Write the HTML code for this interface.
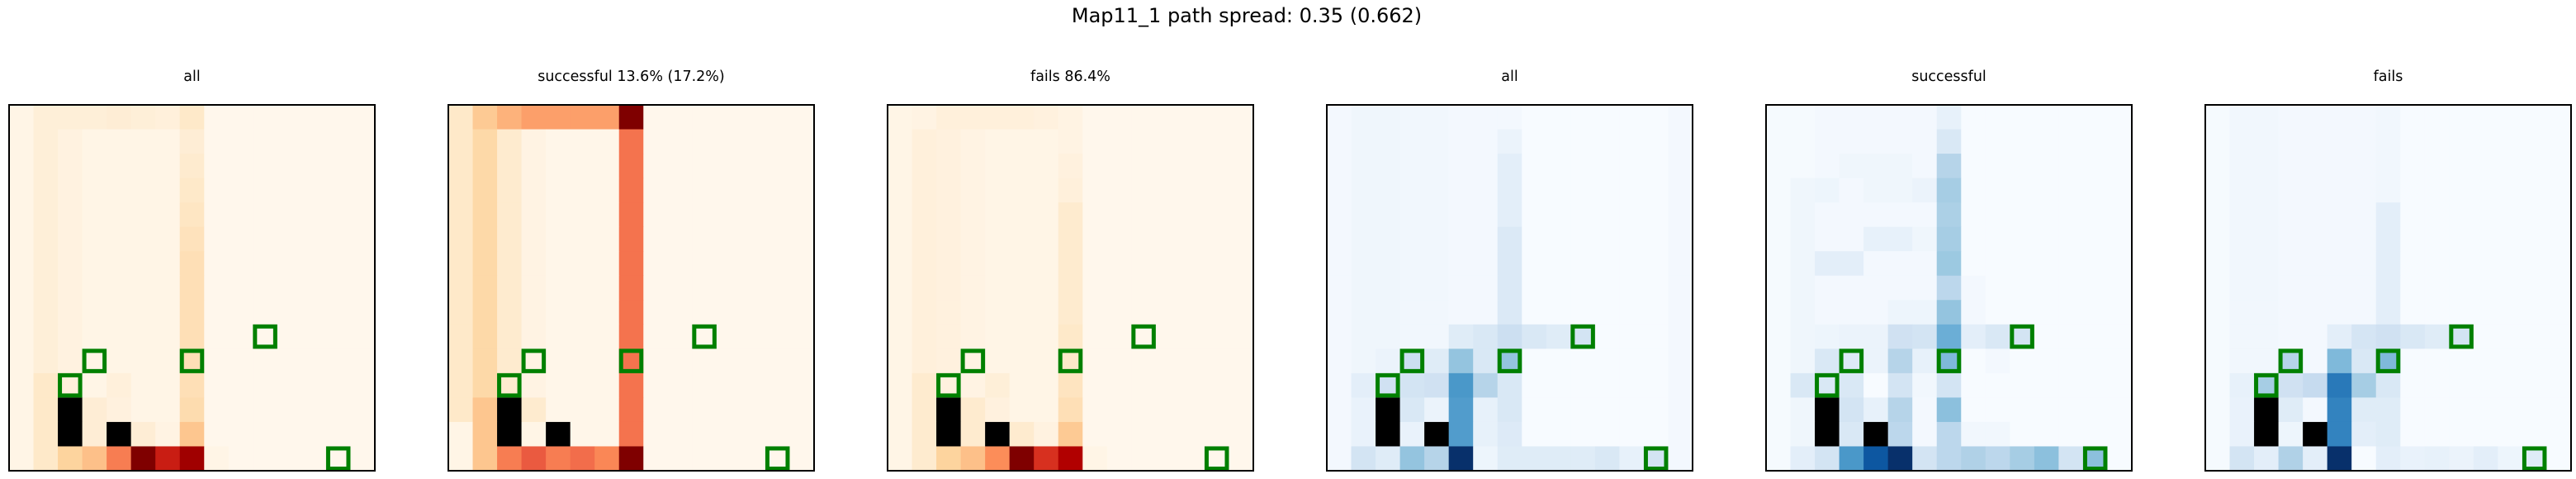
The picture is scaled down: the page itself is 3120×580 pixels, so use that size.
<!DOCTYPE html>
<html><head><meta charset="utf-8"><style>
html,body{margin:0;padding:0;background:#fff;width:3120px;height:580px;overflow:hidden}
svg text{font-family:"DejaVu Sans","Liberation Sans",sans-serif;fill:#000}
</style></head><body>
<svg id="fig" width="3120" height="580" xmlns="http://www.w3.org/2000/svg">
<text x="1510" y="27" font-size="24" text-anchor="middle">Map11_1 path spread: 0.35 (0.662)</text>
</svg>
<script>
const titles = ["all","successful 13.6% (17.2%)","fails 86.4%","all","successful","fails"];
const cmaps = ["OrRd","OrRd","OrRd","Blues","Blues","Blues"];
const walls = [[2,12],[2,13],[4,13]];
const goals = [[3,10],[7,10],[2,11],[10,9],[13,14]];
// per-panel default column values (all rows), then [col,row,value] overrides
const base1 = [0.02,0.07,0.04,0.02,0.02,0.02,0.02,0.18,0,0,0,0,0,0,0];
const cells1 = [[1,11,0.12],[1,12,0.12],[1,13,0.12],[1,14,0.12],[2,0,0.07],[2,11,0.06],[2,14,0.25],[3,0,0.07],[3,12,0.08],[3,13,0.08],[3,14,0.35],[4,0,0.08],[4,11,0.06],[4,12,0.05],[4,14,0.55],[5,0,0.07],[5,13,0.08],[5,14,1.0],[6,0,0.06],[6,13,0.03],[6,14,0.8],[7,0,0.12],[7,1,0.08],[7,2,0.1],[7,3,0.12],[7,4,0.14],[7,5,0.16],[7,12,0.2],[7,13,0.32],[7,14,0.92],[8,14,0.02]];
const base2 = [0.12,0.22,0.1,0.03,0.01,0.01,0.01,0.58,0,0,0,0,0,0,0];
const cells2 = [[0,13,0.02],[0,14,0.02],[1,0,0.3],[1,12,0.32],[1,13,0.32],[1,14,0.32],[2,0,0.4],[2,14,0.55],[3,0,0.45],[3,12,0.1],[3,13,0.02],[3,14,0.65],[4,0,0.45],[4,13,0.03],[4,14,0.55],[5,0,0.45],[5,14,0.6],[6,0,0.45],[6,14,0.52],[7,0,1.0],[7,14,1.0]];
const base3 = [0.02,0.06,0.05,0.03,0.02,0.02,0.02,0.1,0,0,0,0,0,0,0];
const cells3 = [[1,0,0.03],[1,11,0.1],[1,12,0.1],[1,13,0.1],[1,14,0.1],[2,0,0.06],[2,14,0.25],[3,0,0.06],[3,12,0.1],[3,13,0.1],[3,14,0.35],[4,0,0.06],[4,11,0.07],[4,12,0.05],[4,14,0.5],[5,0,0.06],[5,13,0.1],[5,14,1.0],[6,0,0.05],[6,13,0.04],[6,14,0.75],[7,0,0.03],[7,1,0.03],[7,2,0.05],[7,3,0.06],[7,9,0.12],[7,10,0.12],[7,11,0.15],[7,12,0.18],[7,13,0.3],[7,14,0.88],[8,14,0.02]];
const base4 = [0.02,0.04,0.04,0.03,0.03,0.02,0.02,0.14,0,0,0,0,0,0,0.02];
const cells4 = [[1,11,0.1],[1,12,0.07],[1,13,0.07],[1,14,0.18],[2,10,0.06],[2,11,0.2],[2,14,0.12],[3,10,0.22],[3,11,0.18],[3,12,0.15],[3,13,0.07],[3,14,0.4],[4,10,0.12],[4,11,0.2],[4,12,0.06],[4,14,0.3],[5,9,0.12],[5,10,0.4],[5,11,0.6],[5,12,0.58],[5,13,0.58],[5,14,1.0],[6,9,0.15],[6,10,0.15],[6,11,0.3],[6,12,0.08],[6,13,0.08],[6,14,0.05],[7,0,0.02],[7,1,0.06],[7,2,0.1],[7,3,0.1],[7,4,0.1],[7,9,0.22],[7,10,0.4],[7,11,0.15],[7,12,0.15],[7,13,0.13],[7,14,0.12],[8,9,0.15],[8,14,0.12],[9,9,0.12],[9,14,0.12],[10,9,0.18],[10,14,0.12],[11,14,0.15],[12,14,0.08],[13,14,0.18]];
const base5 = [0.01,0.04,0.02,0.02,0.02,0.02,0.02,0.3,0,0,0,0,0,0,0];
const cells5 = [[1,0,0.01],[1,1,0.01],[1,2,0.01],[1,11,0.15],[1,14,0.1],[2,3,0.05],[2,6,0.1],[2,9,0.05],[2,10,0.15],[2,11,0.15],[2,14,0.18],[3,2,0.04],[3,6,0.1],[3,9,0.06],[3,10,0.13],[3,11,0.15],[3,12,0.18],[3,13,0.15],[3,14,0.6],[4,2,0.04],[4,3,0.04],[4,5,0.08],[4,9,0.06],[4,10,0.06],[4,11,0],[4,12,0.08],[4,14,0.85],[5,2,0.04],[5,3,0.04],[5,5,0.08],[5,8,0.05],[5,9,0.2],[5,10,0.3],[5,11,0.18],[5,12,0.3],[5,13,0.28],[5,14,1.0],[6,3,0.06],[6,5,0.04],[6,8,0.05],[6,9,0.18],[6,10,0.08],[6,11,0.03],[6,14,0.18],[7,0,0.08],[7,1,0.15],[7,2,0.3],[7,3,0.35],[7,4,0.33],[7,5,0.35],[7,6,0.38],[7,7,0.28],[7,8,0.4],[7,9,0.5],[7,10,0.45],[7,11,0.18],[7,12,0.42],[7,13,0.28],[7,14,0.28],[8,7,0.02],[8,8,0.02],[8,9,0.1],[8,13,0.03],[8,14,0.32],[9,9,0.15],[9,10,0.02],[9,13,0.03],[9,14,0.28],[10,9,0.18],[10,14,0.35],[11,14,0.42],[12,14,0.18],[13,14,0.42]];
const base6 = [0.01,0.03,0.03,0.02,0.02,0.02,0.02,0.1,0,0,0,0,0,0,0];
const cells6 = [[1,11,0.08],[1,12,0.07],[1,13,0.07],[1,14,0.18],[2,11,0.35],[2,14,0.1],[3,10,0.3],[3,11,0.2],[3,12,0.12],[3,13,0.05],[3,14,0.32],[4,11,0.25],[4,12,0.02],[4,14,0.1],[5,9,0.1],[5,10,0.45],[5,11,0.72],[5,12,0.68],[5,13,0.68],[5,14,1.0],[6,9,0.17],[6,10,0.15],[6,11,0.35],[6,12,0.12],[6,13,0.1],[6,14,0],[7,0,0.03],[7,1,0.03],[7,2,0.03],[7,3,0.03],[7,9,0.2],[7,10,0.45],[7,11,0.15],[7,12,0.12],[7,13,0.12],[7,14,0.1],[8,9,0.15],[8,14,0.07],[9,9,0.12],[9,14,0.08],[10,9,0.18],[10,14,0.06],[11,14,0.1],[12,14,0.05],[13,14,0.12]];
const bases = [base1,base2,base3,base4,base5,base6];
const cellsets = [cells1,cells2,cells3,cells4,cells5,cells6];

const STOPS = {
 OrRd:["#fff7ec","#fee8c8","#fdd49e","#fdbb84","#fc8d59","#ef6548","#d7301f","#b30000","#7f0000"],
 Blues:["#f7fbff","#deebf7","#c6dbef","#9ecae1","#6baed6","#4292c6","#2171b5","#08519c","#08306b"]
};
function hex2rgb(h){return [1,3,5].map(i=>parseInt(h.substr(i,2),16));}
function cmap(name,v){
  const s=STOPS[name]; v=Math.max(0,Math.min(1,v));
  const p=v*(s.length-1), i=Math.min(Math.floor(p),s.length-2), t=p-i;
  const a=hex2rgb(s[i]), b=hex2rgb(s[i+1]);
  return "rgb("+a.map((x,k)=>Math.round(x+(b[k]-x)*t)).join(",")+")";
}
const NS="http://www.w3.org/2000/svg";
const svg=document.getElementById("fig");
const N=15, PW=443, TOP=127;
const cs=PW/N;
function panelX(p){return 11+p*532;}
function xs(p,c){return panelX(p)+c*cs;}
function ys(r){return TOP+r*cs;}
function mk(tag,attrs){const e=document.createElementNS(NS,tag);for(const k in attrs)e.setAttribute(k,attrs[k]);svg.appendChild(e);return e;}

for(let p=0;p<6;p++){
  const grid=[];
  for(let r=0;r<N;r++){grid.push(bases[p].slice());}
  cellsets[p].forEach(([c,r,v])=>{grid[r][c]=v;});
  walls.forEach(([c,r])=>{grid[r][c]=null;});
  for(let r=0;r<N;r++)for(let c=0;c<N;c++){
    const v=grid[r][c];
    const el=mk("rect",{x:xs(p,c),y:ys(r),width:cs+0.6,height:cs+0.6,fill:v===null?"#000":cmap(cmaps[p],v)});
    
    
  }
  goals.forEach(([c,r])=>{
    const g=mk("rect",{x:xs(p,c)+2.5,y:ys(r)+2.5,width:cs-5,height:cs-5,fill:"none",stroke:"#008000","stroke-width":5});
    
    
  });
  const fr=mk("rect",{x:panelX(p),y:TOP,width:PW,height:PW,fill:"none",stroke:"#000","stroke-width":2});
  
  
  const t=mk("text",{x:panelX(p)+PW/2,y:98,"font-size":"17.5","text-anchor":"middle"});
  t.textContent=titles[p];
  
  
}
</script>
</body></html>
